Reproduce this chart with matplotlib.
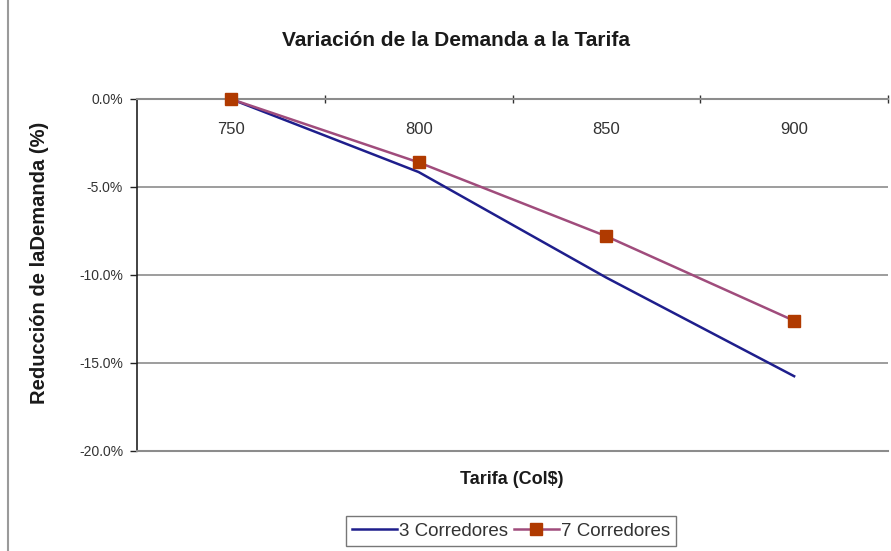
import matplotlib
matplotlib.use('Agg')
import matplotlib.pyplot as plt
from matplotlib.lines import Line2D
from matplotlib.ticker import FuncFormatter

# Data ----
tarifas = ['750', '800', '850', '900']
corredores_3 = [0.0, -4.15, -10.15, -15.75]
corredores_7 = [0.0, -3.6, -7.8, -12.6]

plt.rcParams['font.family'] = ['Liberation Sans', 'DejaVu Sans']

fig = plt.figure(figsize=(8.91, 5.51), dpi=100)
ax = fig.add_axes([137 / 891, 1 - 451 / 551, 751 / 891, 352 / 551])

x = list(range(len(tarifas)))
ax.plot(x, corredores_3, color='#1E1E8C', linewidth=1.8, label='3 Corredores')
ax.plot(x, corredores_7, color='#A04C7C', linewidth=1.8, marker='s',
        markersize=8, markerfacecolor='#B03A00', markeredgecolor='#B03A00',
        label='7 Corredores', clip_on=False, zorder=3)

ax.set_xlim(-0.5, 3.5)
ax.set_ylim(-20, 0)

# Y axis
ax.set_yticks([0, -5, -10, -15, -20])
ax.yaxis.set_major_formatter(FuncFormatter(lambda v, p: '%.1f%%' % v))
ax.tick_params(axis='y', direction='out', length=5, width=1, color='#222222',
               labelsize=10, labelcolor='#333333', pad=5)
ax.yaxis.grid(True, color='#8C8C8C', linewidth=1.2)
ax.set_axisbelow(True)

# Category axis on top, labels inside the plot
ax.xaxis.tick_top()
ax.set_xticks(x)
ax.set_xticklabels(tarifas)
ax.set_xticks([0.5, 1.5, 2.5, 3.5], minor=True)
ax.tick_params(axis='x', which='major', length=0, labelsize=12,
               labelcolor='#333333', pad=-27)
ax.tick_params(axis='x', which='minor', direction='inout', length=6,
               width=1, color='#333333')

for side in ['top', 'bottom']:
    ax.spines[side].set_color('#8C8C8C')
    ax.spines[side].set_linewidth(1.5)
ax.spines['left'].set_color('#222222')
ax.spines['left'].set_linewidth(1.2)
ax.spines['right'].set_visible(False)

# Titles
fig.text(456 / 891, 1 - 40 / 551, 'Variación de la Demanda a la Tarifa',
         ha='center', va='center', fontsize=15, fontweight='bold', color='#1A1A1A')
fig.text(40 / 891, 1 - 263 / 551, 'Reducción de laDemanda (%)', rotation=90,
         ha='center', va='center', fontsize=14.5, fontweight='bold', color='#1A1A1A')
fig.text(512 / 891, 1 - 480 / 551, 'Tarifa (Col\\$)',
         ha='center', va='center', fontsize=13, fontweight='bold', color='#1A1A1A')

# Legend
leg = fig.legend(loc='center', bbox_to_anchor=(511 / 891, 1 - 531 / 551), ncol=2,
                 fontsize=13.5, frameon=True, fancybox=False, handlelength=2.4,
                 handletextpad=0.1, columnspacing=0.3, borderpad=0.35,
                 borderaxespad=0)
leg.get_frame().set_edgecolor('#555555')
leg.get_frame().set_linewidth(1.0)
for t in leg.get_texts():
    t.set_color('#333333')

# Chart area border on the left
fig.add_artist(Line2D([8 / 891, 8 / 891], [0, 1], color='#9A9A9A', linewidth=1.5))

fig.savefig('out.png', dpi=100)
